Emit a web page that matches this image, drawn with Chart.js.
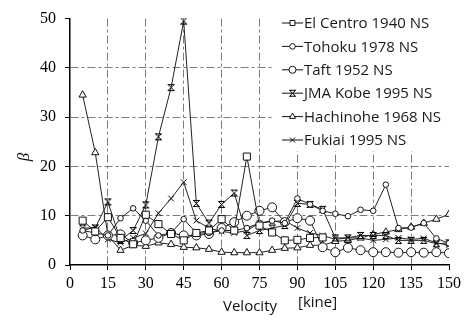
<!DOCTYPE html>
<html>
<head>
<meta charset="utf-8">
<script src="https://cdn.jsdelivr.net/npm/chart.js@4.4.0/dist/chart.umd.min.js"></script>
<style>
  html, body { margin: 0; padding: 0; background: #fff; }
</style>
</head>
<body>
<canvas id="chart-1" width="472" height="322"></canvas>
<script>
// velocity in kine, one point every 5 kine
const velocity = [5, 10, 15, 20, 25, 30, 35, 40, 45, 50, 55, 60, 65, 70, 75,
  80, 85, 90, 95, 100, 105, 110, 115, 120, 125, 130, 135, 140, 145, 150];

const elCentro = [9, 6.8, 9.7, 5.5, 4.2, 10.2, 8.3, 6.3, 5, 6.5, 7, 9.3, 7, 22, 8,
  6.6, 5, 5.1, 5.5, 5.6];
const tohoku = [7, 6.5, 6, 9.5, 11.5, 9, 6, 6.5, 9.3, 6.5, 6.5, 7, 7, 7.5, 8.5,
  9, 8.5, 13.5, 12.3, 11, 10.4, 9.9, 11.2, 11, 16.3, 7.5, 7.6, 8.5, 5.4, 4.4];
const taft = [6, 5.2, 6, 6.2, 4.5, 5, 5.5, 6.5, 6, 6, 6.3, 7.5, 8.7, 10, 11,
  11.7, 8.7, 9.5, 9, 3.6, 2.6, 3.5, 3, 2.6, 2.6, 2.5, 2.6, 2.5, 2.6, 2.4];
const jmaKobe = [7.5, 7.5, 12.8, 5, 7, 12.2, 26, 36, 49.5, 12.5, 8.5, 12.3, 14.6, 6, 7,
  7.5, 8, 12.5, 12.3, 11.3, 5.5, 5.5, 6, 6, 6, 5, 5, 5, 4.3, 4.5];
const hachinohe = [34.5, 22.8, 6, 3, 4, 3.8, 4.5, 4.2, 3.6, 3.5, 3.2, 2.6, 2.5, 2.5, 2.5,
  3, 3.4, 3.5, 4, 4, 4.8, 5, 5.5, 6.2, 6.7, 7.2, 7.7, 8.5, 9.3, 10.3];
const fukiai = [7, 7.7, 5.2, 4.5, 5.5, 6.4, 10.5, 13.5, 16.8, 9, 7.5, 6.8, 6.5, 7, 8.5,
  8.8, 9, 7.5, 6.5, 6, 5.2, 5.5, 5.5, 5, 5.2, 5.5, 5.2, 5.4, 4.5, 4];

const seriesNames = ['El Centro 1940 NS', 'Tohoku 1978 NS', 'Taft 1952 NS',
  'JMA Kobe 1995 NS', 'Hachinohe 1968 NS', 'Fukiai 1995 NS'];
const xTicks = [0, 15, 30, 45, 60, 75, 90, 105, 120, 135, 150];

// x-marker with bars on top and bottom
function hourglass(size) {
  const c = document.createElement('canvas');
  c.width = size; c.height = size;
  const g = c.getContext('2d');
  g.strokeStyle = '#000';
  g.lineWidth = 1;
  g.beginPath();
  g.moveTo(1, 1); g.lineTo(size - 1, size - 1);
  g.moveTo(size - 1, 1); g.lineTo(1, size - 1);
  g.moveTo(1, 1.5); g.lineTo(size - 1, 1.5);
  g.moveTo(1, size - 1.5); g.lineTo(size - 1, size - 1.5);
  g.stroke();
  return c;
}
const kobeMark = hourglass(9);

const styles = [
  { pointStyle: 'rect', pointRadius: 5 },
  { pointStyle: 'circle', pointRadius: 2.8 },
  { pointStyle: 'circle', pointRadius: 4.5 },
  { pointStyle: kobeMark, pointRadius: 4 },
  { pointStyle: 'triangle', pointRadius: 4.2 },
  { pointStyle: 'crossRot', pointRadius: 4 },
];
const allValues = [elCentro, tohoku, taft, jmaKobe, hachinohe, fukiai];

const datasets = allValues.map((vals, i) => ({
  label: seriesNames[i],
  data: vals.map((v, j) => ({ x: velocity[j], y: v })),
  borderColor: '#222',
  borderWidth: 1,
  backgroundColor: '#fff',
  pointBorderColor: '#111',
  pointBackgroundColor: '#fff',
  pointBorderWidth: 1,
  pointStyle: styles[i].pointStyle,
  pointRadius: styles[i].pointRadius,
  tension: 0,
}));

const gridColor = (ends) => (c) =>
  (c.tick && ends.includes(c.tick.value)) ? 'rgba(0,0,0,0)' : '#7c7c7c';

const extras = {
  id: 'extras',
  beforeDatasetsDraw(chart) {
    const ctx = chart.ctx;
    ctx.save();
    ctx.fillStyle = '#fff';
    ctx.fillRect(273, 6, 199, 145);
    ctx.font = '15px "Open Sans"';
    ctx.textBaseline = 'middle';
    ctx.textAlign = 'left';
    seriesNames.forEach((name, i) => {
      const y = 23 + i * 23.4;
      ctx.strokeStyle = '#111';
      ctx.lineWidth = 1;
      ctx.beginPath();
      ctx.moveTo(282, y); ctx.lineTo(303, y);
      ctx.stroke();
      ctx.fillStyle = '#fff';
      ctx.strokeStyle = '#111';
      Chart.helpers.drawPoint(ctx, {
        pointStyle: styles[i].pointStyle,
        radius: Math.min(styles[i].pointRadius, 3.5),
        borderWidth: 1, rotation: 0
      }, 292.5, y);
      ctx.fillStyle = '#1a1a1a';
      ctx.fillText(name, 304, y + 1);
    });
    ctx.restore();
  },
  afterDraw(chart) {
    const ctx = chart.ctx;
    ctx.save();
    ctx.fillStyle = '#111';
    ctx.textBaseline = 'middle';
    ctx.textAlign = 'left';
    ctx.font = '15px "Open Sans"';
    ctx.fillText('Velocity', 223, 307);
    ctx.fillText('[kine]', 298, 303);
    ctx.translate(25, 157);
    ctx.rotate(-Math.PI / 2);
    ctx.textAlign = 'center';
    ctx.font = 'italic 17px "Liberation Serif"';
    ctx.fillText('β', 0, 0);
    ctx.restore();
  }
};

Chart.defaults.font.family = '"Liberation Serif"';
Chart.defaults.font.size = 15;
Chart.defaults.color = '#000';

new Chart(document.getElementById('chart-1'), {
  type: 'line',
  data: { datasets },
  options: {
    responsive: false,
    animation: false,
    layout: { padding: { left: 0, top: 17, right: 23, bottom: 29 } },
    plugins: { legend: { display: false }, tooltip: { enabled: false } },
    scales: {
      x: {
        type: 'linear', min: 0, max: 150,
        afterFit: (s) => { s.height = 28; },
        afterBuildTicks: (s) => { s.ticks = xTicks.map(v => ({ value: v })); },
        ticks: { padding: 4, font: { size: 16 } },
        grid: { color: gridColor([0, 150]), tickColor: '#000', tickLength: 5, lineWidth: 1 },
        border: { display: true, color: '#000', width: 1.5, dash: [8, 3, 3, 3] }
      },
      y: {
        min: 0, max: 50,
        afterFit: (s) => { s.width = 70; },
        ticks: { stepSize: 10, padding: 9, font: { size: 16 } },
        grid: { color: gridColor([0, 50]), tickColor: '#000', tickLength: 5, lineWidth: 1 },
        border: { display: true, color: '#000', width: 1.5, dash: [8, 3, 3, 3] }
      }
    }
  },
  plugins: [extras]
});
</script>
</body>
</html>
